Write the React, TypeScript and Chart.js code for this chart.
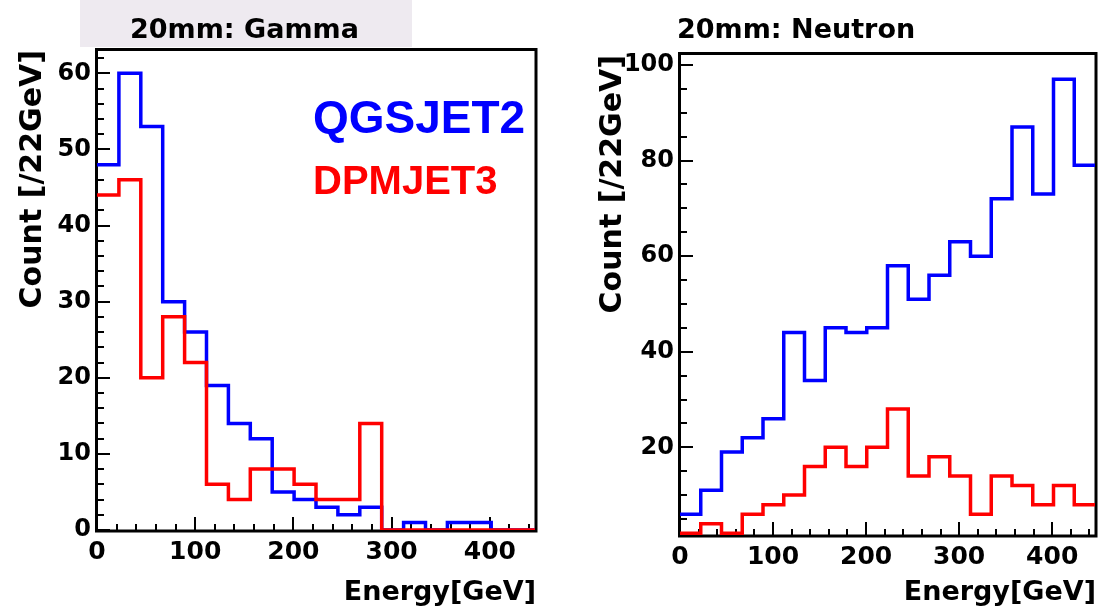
import React, { useEffect, useRef } from "react";
import { Chart, registerables } from "chart.js";

Chart.register(...registerables);

// Histogram binning: 20 uniform bins in energy
const N_BINS = 20;
const E_MIN = 0;
const E_MAX = 446;

// Counts per bin, 20mm tower
const gammaQGSJET2 = [48, 60, 53, 30, 26, 19, 14, 12, 5, 4, 3, 2, 3, 0, 1, 0, 1, 1, 0, 0];
const gammaDPMJET3 = [44, 46, 20, 28, 22, 6, 4, 8, 8, 6, 4, 4, 14, 0, 0, 0, 0, 0, 0, 0];
const neutronQGSJET2 = [6, 11, 19, 22, 26, 44, 34, 45, 44, 45, 58, 51, 56, 63, 60, 72, 87, 73, 97, 79];
const neutronDPMJET3 = [2, 4, 2, 6, 8, 10, 16, 20, 16, 20, 28, 14, 18, 14, 6, 14, 12, 8, 12, 8];

// Axis tick labels
const energyTicks = [0, 100, 200, 300, 400];
const gammaCountTicks = [0, 10, 20, 30, 40, 50, 60];
const neutronCountTicks = [20, 40, 60, 80, 100];

const modelNames = ["QGSJET2", "DPMJET3"];
const modelColors = ["#0000FF", "#FF0000"];

const AXIS_FONT = "'DejaVu Sans', 'Liberation Sans', sans-serif";
const LEGEND_FONT = "'Liberation Sans', Arial, sans-serif";

// Step-histogram points: one point per lower bin edge, plus the closing upper edge
function histPoints(counts: number[]) {
  const w = (E_MAX - E_MIN) / N_BINS;
  const pts = counts.map((c, i) => ({ x: E_MIN + i * w, y: c }));
  pts.push({ x: E_MAX, y: counts[counts.length - 1] });
  return pts;
}

type Panel = {
  key: string;
  left: number;
  width: number;
  height: number;
  padTop: number;
  padRight: number;
  yAxisWidth: number;
  xAxisHeight: number;
  yMin: number;
  yMax: number;
  yTicks: number[];
  yMajor: number;
  yMinor: number;
  title: string;
  titleX: number;
  titleBox?: [number, number, number, number];
  yTitleX: number;
  yTitleTop: number;
  showLegend: boolean;
  series: number[][];
};

const panels: Panel[] = [
  {
    key: "gamma",
    left: 0,
    width: 550,
    height: 609,
    padTop: 50,
    padRight: 15,
    yAxisWidth: 97,
    xAxisHeight: 79,
    yMin: 0,
    yMax: 63.06,
    yTicks: gammaCountTicks,
    yMajor: 10,
    yMinor: 2,
    title: "20mm: Gamma",
    titleX: 130,
    titleBox: [80, 0, 332, 47],
    yTitleX: 33,
    yTitleTop: 50,
    showLegend: true,
    series: [gammaQGSJET2, gammaDPMJET3],
  },
  {
    key: "neutron",
    left: 560,
    width: 539,
    height: 609,
    padTop: 54,
    padRight: 4,
    yAxisWidth: 120,
    xAxisHeight: 74,
    yMin: 1.65,
    yMax: 102.3,
    yTicks: neutronCountTicks,
    yMajor: 20,
    yMinor: 5,
    title: "20mm: Neutron",
    titleX: 117,
    yTitleX: 53,
    yTitleTop: 55,
    showLegend: false,
    series: [neutronQGSJET2, neutronDPMJET3],
  },
];

// Frame, inward tick marks and text in the style of a ROOT canvas
function rootStyle(p: Panel) {
  return {
    id: "rootStyle_" + p.key,
    beforeDraw(chart: any) {
      if (!p.titleBox) return;
      const ctx = chart.ctx;
      ctx.save();
      ctx.fillStyle = "#EEEAF0";
      ctx.fillRect(p.titleBox[0], p.titleBox[1], p.titleBox[2], p.titleBox[3]);
      ctx.restore();
    },
    beforeDatasetsDraw(chart: any) {
      const { ctx, chartArea: a, scales } = chart;
      const xs = scales.x;
      const ys = scales.y;
      ctx.save();
      ctx.strokeStyle = "#000";
      ctx.lineWidth = 3;
      ctx.strokeRect(a.left - 0.5, a.top - 0.5, a.right - a.left + 1.5, a.bottom - a.top + 1.5);

      ctx.lineWidth = 2;
      ctx.beginPath();
      // y axis ticks
      const yStart = Math.ceil(p.yMin / p.yMinor);
      const yEnd = Math.floor(p.yMax / p.yMinor);
      for (let k = yStart; k <= yEnd; k++) {
        const v = k * p.yMinor;
        const major = v % p.yMajor === 0;
        const py = Math.round(ys.getPixelForValue(v));
        ctx.moveTo(a.left, py);
        ctx.lineTo(a.left + (major ? 13 : 7), py);
      }
      // x axis ticks
      for (let k = 0; k * 20 <= E_MAX; k++) {
        const v = k * 20;
        const major = v % 100 === 0;
        const px = Math.round(xs.getPixelForValue(v));
        ctx.moveTo(px, a.bottom);
        ctx.lineTo(px, a.bottom - (major ? 13 : 6));
      }
      ctx.stroke();
      ctx.restore();
    },
    afterDraw(chart: any) {
      const { ctx, chartArea: a } = chart;
      ctx.save();
      ctx.fillStyle = "#000";
      // panel title
      ctx.font = `bold 27px ${AXIS_FONT}`;
      ctx.textAlign = "left";
      ctx.textBaseline = "alphabetic";
      ctx.fillText(p.title, p.titleX, 38);
      // x axis title
      ctx.textAlign = "right";
      ctx.fillText("Energy[GeV]", a.right + 1, 600);
      // y axis title
      ctx.save();
      ctx.translate(p.yTitleX, p.yTitleTop);
      ctx.rotate(-Math.PI / 2);
      ctx.font = `bold 30px ${AXIS_FONT}`;
      ctx.textAlign = "right";
      ctx.textBaseline = "middle";
      ctx.fillText("Count [/22GeV]", 0, 0);
      ctx.restore();
      // model legend
      if (p.showLegend) {
        ctx.textAlign = "left";
        ctx.fillStyle = modelColors[0];
        ctx.font = `bold 46px ${LEGEND_FONT}`;
        ctx.fillText(modelNames[0], 313, 133);
        ctx.fillStyle = modelColors[1];
        ctx.font = `bold 40px ${LEGEND_FONT}`;
        ctx.fillText(modelNames[1], 313, 194);
      }
      ctx.restore();
    },
  };
}

function HistPanel({ p }: { p: Panel }) {
  const ref = useRef<HTMLCanvasElement>(null);
  useEffect(() => {
    const canvas = ref.current;
    if (!canvas) return;
    const tickFont = (size: number) => ({ family: AXIS_FONT, weight: "bold" as const, size });
    const chart = new Chart(canvas, {
      type: "line",
      data: {
        datasets: p.series.map((s, i) => ({
          label: modelNames[i],
          data: histPoints(s),
          borderColor: modelColors[i],
          backgroundColor: modelColors[i],
          borderWidth: 3.5,
          pointRadius: 0,
          stepped: "before" as const,
          fill: false,
          order: i === 0 ? 1 : 0,
        })),
      },
      options: {
        animation: false,
        responsive: false,
        devicePixelRatio: 1,
        events: [],
        layout: { padding: { top: p.padTop, right: p.padRight, left: 0, bottom: 0 } },
        plugins: {
          legend: { display: false },
          tooltip: { enabled: false },
          title: { display: false },
        },
        scales: {
          x: {
            type: "linear",
            min: E_MIN,
            max: E_MAX,
            grid: { display: false, drawTicks: false },
            border: { display: false },
            ticks: {
              color: "#000",
              font: tickFont(25),
              padding: 7,
              maxRotation: 0,
              autoSkip: false,
            },
            afterBuildTicks: (s: any) => {
              s.ticks = energyTicks.map((v) => ({ value: v }));
            },
            afterFit: (s: any) => {
              s.height = p.xAxisHeight;
            },
          },
          y: {
            type: "linear",
            min: p.yMin,
            max: p.yMax,
            grid: { display: false, drawTicks: false },
            border: { display: false },
            ticks: {
              color: "#000",
              font: tickFont(24),
              padding: 6,
              autoSkip: false,
            },
            afterBuildTicks: (s: any) => {
              s.ticks = p.yTicks.map((v) => ({ value: v }));
            },
            afterFit: (s: any) => {
              s.width = p.yAxisWidth;
            },
          },
        },
      },
      plugins: [rootStyle(p)],
    });
    return () => chart.destroy();
  }, [p]);
  return (
    <canvas
      ref={ref}
      width={p.width}
      height={p.height}
      style={{ position: "absolute", left: p.left, top: 0, width: p.width, height: p.height }}
    />
  );
}

export default function App() {
  return (
    <div
      style={{
        position: "fixed",
        left: 0,
        top: 0,
        width: 1099,
        height: 609,
        background: "#FFFFFF",
        overflow: "hidden",
      }}
    >
      {panels.map((p) => (
        <HistPanel key={p.key} p={p} />
      ))}
    </div>
  );
}
